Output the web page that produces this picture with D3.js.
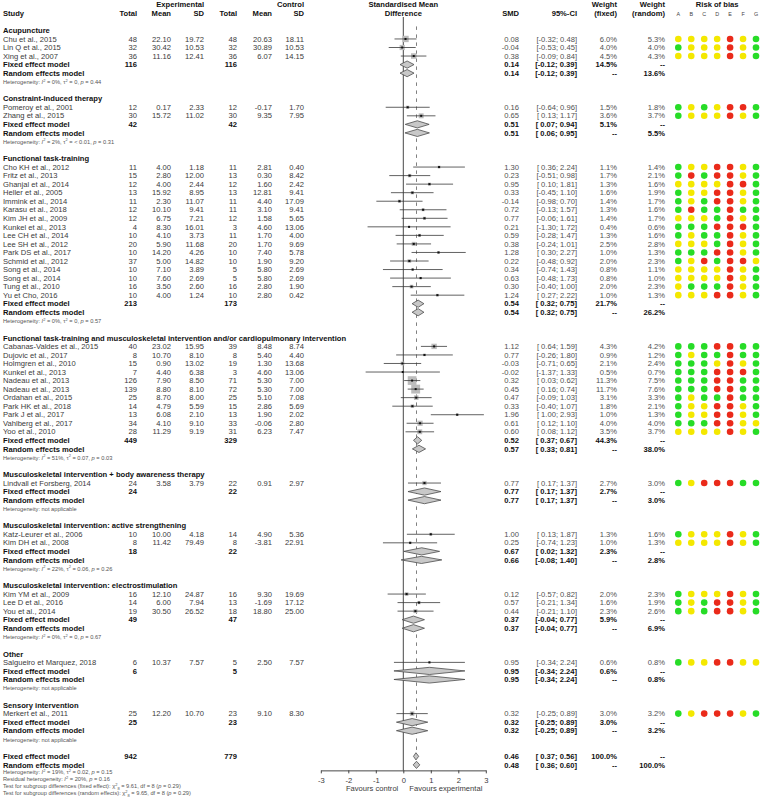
<!DOCTYPE html>
<html><head><meta charset="utf-8">
<script src="https://cdn.jsdelivr.net/npm/d3@7"></script>
<style>
body{margin:0;background:#fff}
text{font-family:"Liberation Sans",Arial,Helvetica,sans-serif}
</style>
</head><body>
<svg id="chart" width="761" height="805"></svg>
<script>
// ---------------- DATA ----------------
const groupNames = [
  "Acupuncture",
  "Constraint-induced therapy",
  "Functional task-training",
  "Functional task-training and musculoskeletal intervention and/or cardiopulmonary intervention",
  "Musculoskeletal intervention + body awareness therapy",
  "Musculoskeletal intervention: active strengthening",
  "Musculoskeletal intervention: electrostimulation",
  "Other",
  "Sensory intervention"
];
const groupSizes = [3, 2, 16, 11, 1, 2, 3, 1, 1];

const studyNames = [
  "Chu et al., 2015","Lin Q et al., 2015","Xing et al., 2007",
  "Pomeroy et al., 2001","Zhang et al., 2015",
  "Cho KH et al., 2012","Fritz et al., 2013","Ghanjal et al., 2014","Heller et al., 2005","Immink et al., 2014","Karasu et al., 2018","Kim JH et al., 2009","Kunkel et al., 2013","Lee CH et al., 2014","Lee SH et al., 2012","Park DS et al., 2017","Schmid et al., 2012","Song et al., 2014","Song et al., 2014","Tung et al., 2010","Yu et Cho, 2016",
  "Cabanas-Valdes et al., 2015","Dujovic et al., 2017","Holmgren et al., 2010","Kunkel et al., 2013","Nadeau et al., 2013","Nadeau et al., 2013","Ordahan et al., 2015","Park HK et al., 2018","Park J et al., 2017","Vahlberg et al., 2017","Yoo et al., 2010",
  "Lindvall et Forsberg, 2014",
  "Katz-Leurer et al., 2006","Kim DH et al., 2008",
  "Kim YM et al., 2009","Lee D et al., 2016","You et al., 2014",
  "Salgueiro et Marquez, 2018",
  "Merkert et al., 2011"
];
const expTotal = [48,32,36, 12,30, 11,15,12,13,11,12,12,4,10,20,10,37,10,10,16,10, 40,8,15,7,126,139,25,14,13,34,28, 24, 10,8, 16,14,19, 6, 25];
const expMean  = [22.10,30.42,11.16, 0.17,15.72, 4.00,2.80,4.00,15.92,2.30,10.10,6.75,8.30,4.10,5.90,14.20,5.00,7.10,7.60,3.50,4.00, 23.02,10.70,0.90,4.40,7.90,8.80,8.70,4.79,6.08,4.10,11.29, 3.58, 10.00,11.42, 12.10,6.00,30.50, 10.37, 12.20];
const expSD    = [19.72,10.53,12.41, 2.33,11.02, 1.18,12.00,2.44,8.95,11.07,9.41,7.21,16.01,3.73,11.68,4.26,14.82,3.89,2.69,2.60,1.24, 15.95,8.10,13.02,6.38,8.50,8.10,8.00,5.59,2.10,9.10,9.19, 3.79, 4.18,79.49, 24.87,7.94,26.52, 7.57, 10.70];
const ctlTotal = [48,32,36, 12,30, 11,13,12,13,11,11,12,3,11,20,10,10,5,5,16,10, 39,8,19,3,71,72,25,15,13,33,31, 22, 14,8, 16,13,18, 5, 23];
const ctlMean  = [20.63,30.89,6.07, -0.17,9.35, 2.81,0.30,1.60,12.81,4.40,3.10,1.58,4.60,1.70,1.70,7.40,1.90,5.80,5.80,2.80,2.80, 8.48,5.40,1.30,4.60,5.30,5.30,5.10,2.86,1.90,-0.06,6.23, 0.91, 4.90,-3.81, 9.30,-1.69,18.80, 2.50, 9.10];
const ctlSD    = [18.11,10.53,14.15, 1.70,7.95, 0.40,8.42,2.42,9.41,17.09,9.41,5.65,13.06,4.00,9.69,5.78,9.20,2.69,2.69,1.90,0.42, 8.74,4.40,13.68,13.06,7.00,7.00,7.08,5.69,2.02,2.80,7.47, 2.97, 5.36,22.91, 19.69,17.12,25.00, 7.57, 8.30];
const smd      = [0.08,-0.04,0.38, 0.16,0.65, 1.30,0.23,0.95,0.33,-0.14,0.72,0.77,0.21,0.59,0.38,1.28,0.22,0.34,0.63,0.30,1.24, 1.12,0.77,-0.03,-0.02,0.32,0.45,0.47,0.33,1.96,0.61,0.60, 0.77, 1.00,0.25, 0.12,0.57,0.44, 0.95, 0.32];
const ciLower  = [-0.32,-0.53,-0.09, -0.64,0.13, 0.36,-0.51,0.10,-0.45,-0.98,-0.13,-0.06,-1.30,-0.28,-0.24,0.30,-0.48,-0.74,-0.48,-0.40,0.27, 0.64,-0.26,-0.71,-1.37,0.03,0.16,-0.09,-0.40,1.00,0.12,0.08, 0.17, 0.13,-0.74, -0.57,-0.21,-0.21, -0.34, -0.25];
const ciUpper  = [0.48,0.45,0.84, 0.96,1.17, 2.24,0.98,1.81,1.10,0.70,1.57,1.61,1.72,1.47,1.01,2.27,0.92,1.43,1.73,1.00,2.22, 1.59,1.80,0.65,1.33,0.62,0.74,1.03,1.07,2.93,1.10,1.12, 1.37, 1.87,1.23, 0.82,1.34,1.10, 2.24, 0.89];
const weightFixed  = [6.0,4.0,4.5, 1.5,3.6, 1.1,1.7,1.3,1.6,1.4,1.3,1.4,0.4,1.3,2.5,1.0,2.0,0.8,0.8,2.0,1.0, 4.3,0.9,2.1,0.5,11.3,11.7,3.1,1.8,1.0,4.0,3.5, 2.7, 1.3,1.0, 2.0,1.6,2.3, 0.6, 3.0];
const weightRandom = [5.3,4.0,4.3, 1.8,3.7, 1.4,2.1,1.6,1.9,1.7,1.6,1.7,0.6,1.6,2.8,1.3,2.3,1.1,1.0,2.3,1.3, 4.2,1.2,2.4,0.7,7.5,7.6,3.3,2.1,1.3,4.0,3.7, 3.0, 1.6,1.3, 2.3,1.9,2.6, 0.8, 3.2];
const riskOfBias = [
  "YYYYRYG","GYYYRYG","YYYYRYG",
  "GYGYRRG","GYYYRYG",
  "GYYRRYG","GRGRRYG","YYYYRRG","GYYRRYG","GYGRRYG","GRGGRGG","YYYGRYG","GGGRRRG","GYGGRYG","YYYGRYG","GGGRRYG","GYRGRRY","YYYYRYG","YYYYRYG","YGGGRYG","YYYRRYG",
  "GGGRRGG","GYGGRGG","GGGYRYG","GGGRRRG","GGGRRGG","GGGRRGG","GYGGRGG","GYYRRYG","GYYRRYG","GGGRRYY","YYYYRYG",
  "GYRRRGG",
  "GYYYRYG","YYYYRYG",
  "GYYYRYG","GYGRRYG","GYGRRYG",
  "GYYRRYY",
  "GYRRRYG"
];
const biasDomains = ["A","B","C","D","E","F","G"];

const groupExpTotal = [116,42,213,449,24,18,49,6,25];
const groupCtlTotal = [116,42,173,329,22,22,47,5,23];
const fixedSMD     = [0.14,0.51,0.54,0.52,0.77,0.67,0.37,0.95,0.32];
const fixedLower   = [-0.12,0.07,0.32,0.37,0.17,0.02,-0.04,-0.34,-0.25];
const fixedUpper   = [0.39,0.94,0.75,0.67,1.37,1.32,0.77,2.24,0.89];
const fixedWeight  = [14.5,5.1,21.7,44.3,2.7,2.3,5.9,0.6,3.0];
const randomSMD    = [0.14,0.51,0.54,0.57,0.77,0.66,0.37,0.95,0.32];
const randomLower  = [-0.12,0.06,0.32,0.33,0.17,-0.08,-0.04,-0.34,-0.25];
const randomUpper  = [0.39,0.95,0.75,0.81,1.37,1.40,0.77,2.24,0.89];
const randomWeight = [13.6,5.5,26.2,38.0,3.0,2.8,6.9,0.8,3.2];
const hetI2   = ["0%","2%","0%","51%",null,"22%","0%",null,null];
const hetTau2 = ["0","< 0.01","0","0.07",null,"0.06","0",null,null];
const hetP    = ["0.44","0.31","0.57","0.03",null,"0.26","0.67",null,null];

const overallTotals = [942, 779];
const overallFixed  = [0.46, 0.37, 0.56];
const overallRandom = [0.48, 0.36, 0.60];
const overallHet    = ["19%", "0.02", "0.15"];
const residualHet   = ["20%", "0.16"];
const subgroupTestFixed  = ["9.61", "8", "0.29"];
const subgroupTestRandom = ["9.65", "8", "0.29"];
const axisTicks = [-3,-2,-1,0,1,2,3];

// ---------------- LAYOUT ----------------
const svg = d3.select("#chart");
svg.append("rect").attr("width",761).attr("height",805).attr("fill","#fff");

const FS = 7.6, FSS = 5.7;
const C_REG = "#3a3a3a", C_BOLD = "#111", C_HET = "#555";
const rowY = d3.scaleLinear().domain([0,1]).range([4.8, 4.8 + 8.54]);
const x = d3.scaleLinear().domain([-3,3]).range([320.8, 485.8]);
const col = {study:3, eT:137, eM:171, eSD:204, cT:237, cM:272, cSD:304, smd:519, ci:577, wf:617, wr:665};
const biasX = d3.scalePoint().domain(biasDomains).range([678.3, 756]);
const biasColor = {G:"#27dc27", Y:"#f4e800", R:"#ea2a1a"};

function txt(xp, yp, s, o = {}) {
  const size = o.size || FS;
  return svg.append("text")
    .attr("x", xp).attr("y", yp + 0.35 * size)
    .attr("text-anchor", o.anchor || "end")
    .style("font-size", size + "px")
    .style("font-weight", o.bold ? "bold" : "normal")
    .attr("fill", o.color || (o.bold ? C_BOLD : C_REG))
    .text(s);
}
function rich(xp, yp, parts, size) {
  const t = svg.append("text").attr("x", xp).attr("y", yp + 0.35 * size)
    .attr("text-anchor","start").style("font-size", size + "px").attr("fill", C_HET);
  let off = 0;
  parts.forEach(p => {
    const [s, st] = Array.isArray(p) ? p : [p, ""];
    let target = 0, fs = size;
    if (st === "sup") { target = -size * 0.4; fs = size * 0.7; }
    if (st === "sub") { target = size * 0.25; fs = size * 0.7; }
    const ts = t.append("tspan").text(s).style("font-size", fs + "px");
    if (target - off !== 0) ts.attr("dy", target - off);
    off = target;
    if (st === "i") ts.style("font-style","italic");
  });
  return t;
}
const f2 = v => v.toFixed(2);
const ciStr = (lo, hi) => "[" + (lo < 0 ? f2(lo) : "\u00A0" + f2(lo)) + "; " + f2(hi) + "]";
const pct = v => v.toFixed(1) + "%";

// ---------------- HEADER ----------------
txt(col.eSD, rowY(0), "Experimental", {bold:true});
txt(col.cSD, rowY(0), "Control", {bold:true});
txt(col.study, rowY(1), "Study", {bold:true, anchor:"start"});
[["Total",col.eT],["Mean",col.eM],["SD",col.eSD],["Total",col.cT],["Mean",col.cM],["SD",col.cSD]]
  .forEach(([s,xx]) => txt(xx, rowY(1), s, {bold:true}));
txt(x(0), rowY(0), "Standardised Mean", {bold:true, anchor:"middle"});
txt(x(0), rowY(1), "Difference", {bold:true, anchor:"middle"});
txt(col.smd, rowY(1), "SMD", {bold:true});
txt(col.ci, rowY(1), "95%-CI", {bold:true});
txt(col.wf, rowY(0), "Weight", {bold:true});
txt(col.wf, rowY(1), "(fixed)", {bold:true});
txt(col.wr, rowY(0), "Weight", {bold:true});
txt(col.wr, rowY(1), "(random)", {bold:true});
txt((biasX("A") + biasX("G"))/2, rowY(0), "Risk of bias", {bold:true, anchor:"middle"});
biasDomains.forEach(d => txt(biasX(d), rowY(1)+0.5, d, {anchor:"middle", size:5.4, color:"#444"}));

// ---------------- REFERENCE LINES ----------------
const lastRow = 89;
const axisY = rowY(lastRow) + 5.5;
svg.append("line").attr("x1", x(0)).attr("x2", x(0)).attr("y1", 17).attr("y2", axisY)
  .attr("stroke", "#333").attr("stroke-width", 0.9);
svg.append("line").attr("x1", x(overallRandom[0])).attr("x2", x(overallRandom[0]))
  .attr("y1", rowY(3) - 4).attr("y2", rowY(lastRow) + 3)
  .attr("stroke", "#555").attr("stroke-width", 0.75).attr("stroke-dasharray", "3.5,4.5");

// ---------------- MARKS ----------------
function diamond(yc, m, lo, hi) {
  const h = 3.6;
  svg.append("path")
    .attr("d", `M${x(lo)},${yc} L${x(m)},${yc-h} L${x(hi)},${yc} L${x(m)},${yc+h} Z`)
    .attr("fill", "#c8c8c8").attr("stroke", "#444").attr("stroke-width", 0.75);
}
function study(i, yc) {
  txt(col.study, yc, studyNames[i], {anchor:"start"});
  txt(col.eT, yc, expTotal[i]);
  txt(col.eM, yc, f2(expMean[i]));
  txt(col.eSD, yc, f2(expSD[i]));
  txt(col.cT, yc, ctlTotal[i]);
  txt(col.cM, yc, f2(ctlMean[i]));
  txt(col.cSD, yc, f2(ctlSD[i]));
  txt(col.smd, yc, f2(smd[i]), {color:"#505050"});
  txt(col.ci, yc, ciStr(ciLower[i], ciUpper[i]), {color:"#505050"});
  txt(col.wf, yc, pct(weightFixed[i]), {color:"#505050"});
  txt(col.wr, yc, pct(weightRandom[i]), {color:"#505050"});
  // forest
  const side = 2.6 * Math.sqrt(weightFixed[i]);
  svg.append("rect").attr("x", x(smd[i]) - side/2).attr("y", yc - side/2)
    .attr("width", side).attr("height", side).attr("fill", "#bcbcbc");
  svg.append("line").attr("x1", x(ciLower[i])).attr("x2", x(ciUpper[i]))
    .attr("y1", yc).attr("y2", yc).attr("stroke", "#3a3a3a").attr("stroke-width", 0.8);
  svg.append("rect").attr("x", x(smd[i]) - 1).attr("y", yc - 1)
    .attr("width", 2).attr("height", 2).attr("fill", "#111");
  // risk of bias
  riskOfBias[i].split("").forEach((c, k) => {
    svg.append("circle").attr("cx", biasX(biasDomains[k])).attr("cy", yc)
      .attr("r", 3.3).attr("fill", biasColor[c]);
  });
}

let r = 3, si = 0;
groupNames.forEach((g, gi) => {
  txt(col.study, rowY(r), g, {bold:true, anchor:"start"});
  r++;
  for (let k = 0; k < groupSizes[gi]; k++) { study(si, rowY(r)); si++; r++; }
  // fixed
  let yc = rowY(r);
  txt(col.study, yc, "Fixed effect model", {bold:true, anchor:"start"});
  txt(col.eT, yc, groupExpTotal[gi], {bold:true});
  txt(col.cT, yc, groupCtlTotal[gi], {bold:true});
  txt(col.smd, yc, f2(fixedSMD[gi]), {bold:true});
  txt(col.ci, yc, ciStr(fixedLower[gi], fixedUpper[gi]), {bold:true});
  txt(col.wf, yc, pct(fixedWeight[gi]), {bold:true});
  txt(col.wr, yc, "--", {bold:true});
  diamond(yc, fixedSMD[gi], fixedLower[gi], fixedUpper[gi]);
  r++;
  // random
  yc = rowY(r);
  txt(col.study, yc, "Random effects model", {bold:true, anchor:"start"});
  txt(col.smd, yc, f2(randomSMD[gi]), {bold:true});
  txt(col.ci, yc, ciStr(randomLower[gi], randomUpper[gi]), {bold:true});
  txt(col.wf, yc, "--", {bold:true});
  txt(col.wr, yc, pct(randomWeight[gi]), {bold:true});
  diamond(yc, randomSMD[gi], randomLower[gi], randomUpper[gi]);
  r++;
  // heterogeneity
  yc = rowY(r) + 0.3;
  if (hetI2[gi] === null) {
    rich(col.study, yc, ["Heterogeneity: not applicable"], FSS);
  } else {
    rich(col.study, yc, ["Heterogeneity: ", ["I","i"], ["2","sup"], " = " + hetI2[gi] + ", ",
      "\u03C4", ["2","sup"], " = " + hetTau2[gi] + ", ", ["p","i"], " = " + hetP[gi]], FSS);
  }
  r += 2;
});

// overall
let yo = rowY(r);
txt(col.study, yo, "Fixed effect model", {bold:true, anchor:"start"});
txt(col.eT, yo, overallTotals[0], {bold:true});
txt(col.cT, yo, overallTotals[1], {bold:true});
txt(col.smd, yo, f2(overallFixed[0]), {bold:true});
txt(col.ci, yo, ciStr(overallFixed[1], overallFixed[2]), {bold:true});
txt(col.wf, yo, "100.0%", {bold:true});
txt(col.wr, yo, "--", {bold:true});
diamond(yo, overallFixed[0], overallFixed[1], overallFixed[2]);
yo = rowY(r + 1);
txt(col.study, yo, "Random effects model", {bold:true, anchor:"start"});
txt(col.smd, yo, f2(overallRandom[0]), {bold:true});
txt(col.ci, yo, ciStr(overallRandom[1], overallRandom[2]), {bold:true});
txt(col.wf, yo, "--", {bold:true});
txt(col.wr, yo, "100.0%", {bold:true});
diamond(yo, overallRandom[0], overallRandom[1], overallRandom[2]);

const fy = k => rowY(r + 1) + 7.2 + k * 7.1;
rich(col.study, fy(0), ["Heterogeneity: ", ["I","i"], ["2","sup"], " = " + overallHet[0] + ", ",
  "\u03C4", ["2","sup"], " = " + overallHet[1] + ", ", ["p","i"], " = " + overallHet[2]], FSS);
rich(col.study, fy(1), ["Residual heterogeneity: ", ["I","i"], ["2","sup"], " = " + residualHet[0] + ", ",
  ["p","i"], " = " + residualHet[1]], FSS);
rich(col.study, fy(2), ["Test for subgroup differences (fixed effect): ", "\u03C7", ["2","sup"], ["8","sub"],
  " = " + subgroupTestFixed[0] + ", df = " + subgroupTestFixed[1] + " (", ["p","i"], " = " + subgroupTestFixed[2] + ")"], FSS);
rich(col.study, fy(3), ["Test for subgroup differences (random effects): ", "\u03C7", ["2","sup"], ["8","sub"],
  " = " + subgroupTestRandom[0] + ", df = " + subgroupTestRandom[1] + " (", ["p","i"], " = " + subgroupTestRandom[2] + ")"], FSS);

// ---------------- AXIS ----------------
const ax = svg.append("g").attr("transform", `translate(0,${axisY})`)
  .call(d3.axisBottom(x).tickValues(axisTicks).tickFormat(d => d).tickSize(3).tickSizeOuter(0).tickPadding(4));
ax.select(".domain").attr("stroke", "#333").attr("stroke-width", 0.9);
ax.selectAll(".tick line").attr("stroke", "#333").attr("stroke-width", 0.9);
ax.selectAll(".tick text").style("font-size", FS + "px").attr("fill", C_REG)
  .style("font-family", '"Liberation Sans",Arial,sans-serif');
txt(x(0) - 5, axisY + 17.5, "Favours control", {anchor:"end"});
txt(x(0) + 6, axisY + 17.5, "Favours experimental", {anchor:"start"});
</script>
</body></html>
